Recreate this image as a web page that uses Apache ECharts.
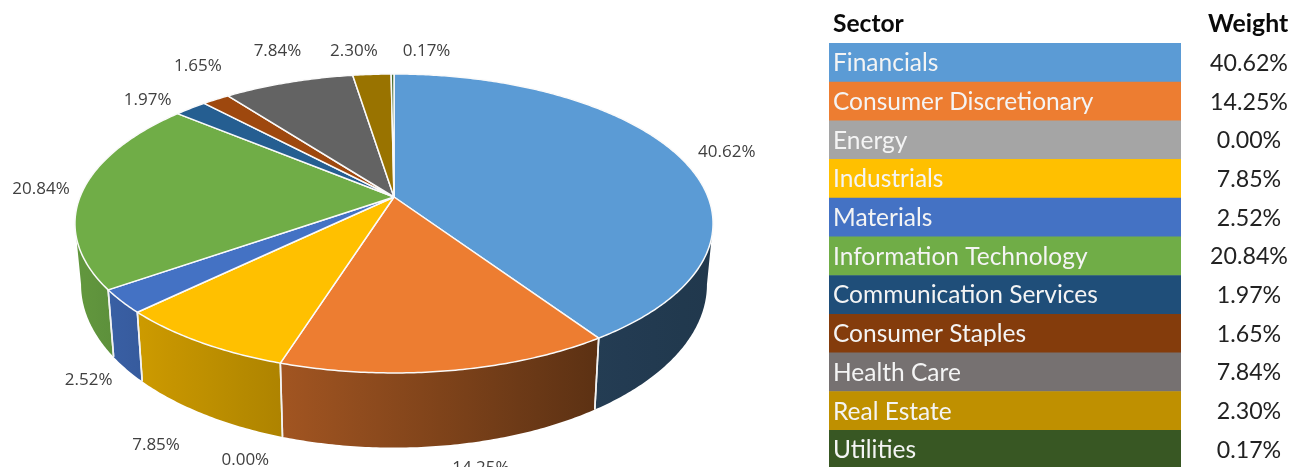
<!DOCTYPE html>
<html><head><meta charset="utf-8">
<script src="https://cdn.jsdelivr.net/npm/echarts@6/dist/echarts.min.js"></script>
<style>html,body{margin:0;padding:0;background:#fff;overflow:hidden}#c{width:1292px;height:467px}</style>
</head><body><div id="c"></div>
<script>
const sectors = ['Financials','Consumer Discretionary','Energy','Industrials','Materials','Information Technology','Communication Services','Consumer Staples','Health Care','Real Estate','Utilities'];
const weights = [40.62,14.25,0.00,7.85,2.52,20.84,1.97,1.65,7.84,2.30,0.17];
const weightLabels = ['40.62%','14.25%','0.00%','7.85%','2.52%','20.84%','1.97%','1.65%','7.84%','2.30%','0.17%'];
const pieColors = ['#5B9BD5','#ED7D31','#A5A5A5','#FFC000','#4472C4','#70AD47','#255E91','#9E480E','#636363','#997300','#43682B'];
const tableColors = ['#5B9BD5','#ED7D31','#A5A5A5','#FFC000','#4472C4','#70AD47','#1F4E79','#843C0C','#767171','#BF9000','#385723'];
const labelNudges = [[47,-5],[33,97],[-35,97],[-44,103],[-33,79],[-41.5,-2],[-43,-8],[-18,-33],[-11,-31],[-18,-23],[34,-23]];

const total = weights.reduce((a,b)=>a+b,0);
const starts = []; weights.reduce((a,b,i)=>{starts[i]=a;return a+b;},0);
const PIE = {cx:394, cy:197, A:314, B:144.8, k:0.177, floorDrop:58.6, floorA:308, floorB:158};
const RIGHT_TANGENT = Math.PI/2+Math.asin(PIE.k), LEFT_TANGENT = Math.PI*2-RIGHT_TANGENT;
const angle = v => v/total*Math.PI*2;
function topPt(t){const u=Math.sin(t),v=Math.cos(t),w=1+PIE.k*v;return [PIE.cx+PIE.A*u/w,PIE.cy-PIE.B*v/w];}
function floorPt(t){const u=Math.sin(t),v=Math.cos(t),w=1+PIE.k*v;return [PIE.cx+PIE.floorA*u/w,PIE.cy+PIE.floorDrop-PIE.floorB*v/w];}
function arc(fn,a,b){const n=Math.max(2,Math.ceil((b-a)/0.01));const p=[];for(let i=0;i<=n;i++)p.push(fn(a+(b-a)*i/n));return p;}
function shade(x){const s=[[80,.87],[142,.80],[283,.68],[596,.39],[715,.36]];
  if(x<=s[0][0])return s[0][1];
  for(let i=1;i<s.length;i++)if(x<=s[i][0]){const f=(x-s[i-1][0])/(s[i][0]-s[i-1][0]);return s[i-1][1]+(s[i][1]-s[i-1][1])*f;}
  return s[s.length-1][1];}
function dark(hex,f){const n=parseInt(hex.slice(1),16);return `rgb(${Math.round((n>>16&255)*f)},${Math.round((n>>8&255)*f)},${Math.round((n&255)*f)})`;}

function renderWall(params,api){
  const i=params.dataIndex,val=api.value(0);
  const a0=angle(starts[i]),b0=angle(starts[i]+val);
  const a=Math.max(a0,RIGHT_TANGENT),b=Math.min(b0,LEFT_TANGENT);
  if(val<=0||a>=b)return {type:'group',children:[]};
  const pts=arc(topPt,a,b).concat(arc(floorPt,a,b).reverse()),xs=pts.map(p=>p[0]);
  const x0=Math.min(...xs),x1=Math.max(...xs),c=pieColors[i];
  const stops=[];for(let s=0;s<=4;s++){stops.push({offset:s/4,color:dark(c,shade(x0+(x1-x0)*s/4))});}
  const seam=(ang)=>{const p=topPt(ang),q=floorPt(ang);return {type:'line',shape:{x1:p[0],y1:p[1],x2:q[0],y2:q[1]},style:{stroke:'#F2F2F2',lineWidth:1.6},z2:3};};
  const kids=[{type:'polygon',shape:{points:pts},style:{fill:{type:'linear',x:x0,y:0,x2:x1,y2:0,global:true,colorStops:stops}}}];
  if(a0>RIGHT_TANGENT)kids.push(seam(a0));
  if(b0<LEFT_TANGENT)kids.push(seam(b0));
  return {type:'group',children:kids};
}
function renderTop(params,api){
  const i=params.dataIndex,val=api.value(0);
  if(val<=0)return {type:'group',children:[]};
  const a=angle(starts[i]),b=angle(starts[i]+val);
  const pts=[[PIE.cx,PIE.cy]].concat(arc(topPt,a,b));
  return {type:'polygon',shape:{points:pts},style:{fill:pieColors[i],stroke:'#FAFAFA',lineWidth:1.5,lineJoin:'round'}};
}
function renderLabel(params,api){
  const i=params.dataIndex,val=api.value(0);
  const p=topPt(angle(starts[i]+val/2));
  return {type:'text',x:p[0]+labelNudges[i][0],y:p[1]+labelNudges[i][1],
    style:{text:weightLabels[i],fill:'#404040',font:'17px "Open Sans"',align:'center',verticalAlign:'middle'}};
}
const TABLE={left:829,width:352,top:43,rowH:38.7,textX:833,valueX:1249};
function renderRow(params,api){
  const i=params.dataIndex,y=TABLE.top+i*TABLE.rowH;
  return {type:'group',children:[
    {type:'rect',shape:{x:TABLE.left,y:y,width:TABLE.width,height:TABLE.rowH+0.5},style:{fill:tableColors[i]}},
    {type:'text',x:TABLE.textX,y:y+TABLE.rowH/2+1,style:{text:sectors[i],fill:'#F4F4F4',font:'24.5px Lato',align:'left',verticalAlign:'middle'}},
    {type:'text',x:TABLE.valueX,y:y+TABLE.rowH/2+1,style:{text:weightLabels[i],fill:'#222',font:'23.2px Lato',align:'center',verticalAlign:'middle'}}
  ]};
}
const rows=weights.map(v=>[v]);
const chart=echarts.init(document.getElementById('c'),null,{renderer:'canvas'});
chart.setOption({
  animation:false,
  backgroundColor:'#fff',
  graphic:[
    {type:'text',left:833,top:12,style:{text:'Sector',fill:'#0a0a0a',font:'bold 24.6px Lato'}},
    {type:'text',left:1208,top:12,style:{text:'Weight',fill:'#0a0a0a',font:'bold 24.8px Lato'}}
  ],
  series:[
    {type:'custom',coordinateSystem:'none',z:1,data:rows,renderItem:renderWall,silent:true},
    {type:'custom',coordinateSystem:'none',z:2,data:rows,renderItem:renderTop,silent:true},
    {type:'custom',coordinateSystem:'none',z:3,data:rows,renderItem:renderLabel,silent:true},
    {type:'custom',coordinateSystem:'none',z:4,data:rows,renderItem:renderRow,silent:true}
  ]
});
</script></body></html>
